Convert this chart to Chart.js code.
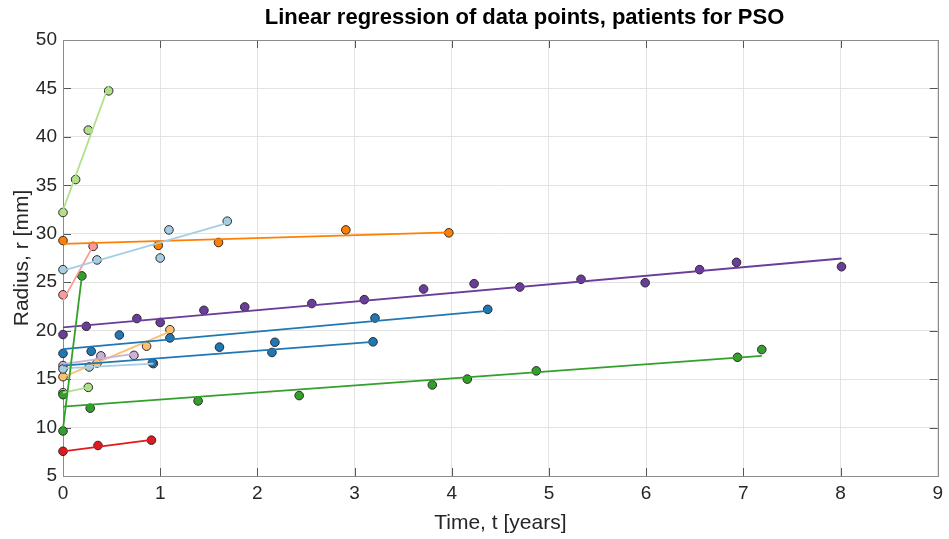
<!DOCTYPE html>
<html>
<head>
<meta charset="utf-8">
<script src="https://cdn.jsdelivr.net/npm/chart.js@4.4.1/dist/chart.umd.min.js"></script>
<style>
  html, body { margin: 0; padding: 0; background: #ffffff; }
  #c { display: block; }
</style>
</head>
<body>
<canvas id="c" width="949" height="539"></canvas>
<script>
// ---------------- DATA ----------------
const chartTitle = 'Linear regression of data points, patients for PSO';
const xAxisTitle = 'Time, t [years]';
const yAxisTitle = 'Radius, r [mm]';
const xTickValues = [0, 1, 2, 3, 4, 5, 6, 7, 8, 9];
const yTickValues = [5, 10, 15, 20, 25, 30, 35, 40, 45, 50];

// each patient: time points t [years], radii r [mm], fitted line r at first / last time
const tLightBlueA = [0, 0.35, 1.00, 1.09, 1.69];
const rLightBlueA = [26.3, 27.3, 27.5, 30.4, 31.3];
const fitLightBlueA = [26.2, 31.1];

const tOrange = [0, 0.98, 1.60, 2.91, 3.97];
const rOrange = [29.3, 28.8, 29.1, 30.4, 30.1];
const fitOrange = [28.95, 30.15];

const tPink = [0, 0.31];
const rPink = [23.7, 28.7];
const fitPink = [23.1, 28.75];

const tGreenSteep = [0, 0.194];
const rGreenSteep = [9.65, 25.65];
const fitGreenSteep = [9.9, 25.6];

const tGreenLong = [0, 0.28, 1.39, 2.43, 3.80, 4.16, 4.87, 6.94, 7.19];
const rGreenLong = [13.4, 12.0, 12.75, 13.3, 14.4, 15.0, 15.85, 17.25, 18.05];
const fitGreenLong = [12.15, 17.4];

const tRed = [0, 0.36, 0.91];
const rRed = [7.55, 8.15, 8.7];
const fitRed = [7.55, 8.72];

const tPurple = [0, 0.24, 0.76, 1.00, 1.45, 1.87, 2.56, 3.10, 3.71, 4.23, 4.70, 5.33, 5.99, 6.55, 6.93, 8.01];
const rPurple = [19.6, 20.45, 21.25, 20.85, 22.1, 22.45, 22.8, 23.2, 24.3, 24.85, 24.5, 25.3, 24.95, 26.3, 27.05, 26.6];
const fitPurple = [20.35, 27.45];

const tBlueUpper = [0, 0.58, 1.10, 3.21, 4.37];
const rBlueUpper = [17.65, 19.55, 19.25, 21.3, 22.2];
const fitBlueUpper = [18.1, 22.05];

const tBlueLower = [0.29, 0.92, 1.61, 2.15, 2.18, 3.19];
const rBlueLower = [17.87, 16.67, 18.3, 17.75, 18.8, 18.85];
const fitBlueLower = [16.4, 18.85];
const fitBlueLowerT = [0, 3.19];

const tLightBlueB = [0, 0.27, 0.93];
const rLightBlueB = [16.05, 16.25, 16.6];
const fitLightBlueB = [16.1, 16.6];

const tLightPurple = [0, 0.39, 0.73];
const rLightPurple = [16.4, 17.4, 17.45];
const fitLightPurple = [16.55, 17.6];

const tLightOrange = [0, 0.35, 0.86, 1.10];
const rLightOrange = [15.25, 16.65, 18.4, 20.1];
const fitLightOrange = [15.2, 19.9];

const tLightGreenLow = [0, 0.26];
const rLightGreenLow = [13.6, 14.15];
const fitLightGreenLow = [13.6, 14.15];

const tLightGreenHigh = [0, 0.13, 0.26, 0.47];
const rLightGreenHigh = [32.2, 35.6, 40.7, 44.75];
const fitLightGreenHigh = [32.43, 45.28];

// ---------------- STYLE ----------------
const C = {
  lightBlue: '#a6cee3', blue: '#1f78b4', lightGreen: '#b2df8a', green: '#33a02c',
  pink: '#fb9a99', red: '#e31a1c', lightOrange: '#fdbf6f', orange: '#ff7f00',
  lightPurple: '#cab2d6', purple: '#6a3d9a'
};

const patients = [
  { t: tLightBlueA, r: rLightBlueA, fit: fitLightBlueA, color: C.lightBlue },
  { t: tOrange, r: rOrange, fit: fitOrange, color: C.orange },
  { t: tPink, r: rPink, fit: fitPink, color: C.pink },
  { t: tGreenSteep, r: rGreenSteep, fit: fitGreenSteep, color: C.green },
  { t: tGreenLong, r: rGreenLong, fit: fitGreenLong, color: C.green },
  { t: tRed, r: rRed, fit: fitRed, color: C.red },
  { t: tPurple, r: rPurple, fit: fitPurple, color: C.purple },
  { t: tBlueUpper, r: rBlueUpper, fit: fitBlueUpper, color: C.blue },
  { t: tBlueLower, r: rBlueLower, fit: fitBlueLower, fitT: fitBlueLowerT, color: C.blue },
  { t: tLightBlueB, r: rLightBlueB, fit: fitLightBlueB, color: C.lightBlue },
  { t: tLightPurple, r: rLightPurple, fit: fitLightPurple, color: C.lightPurple },
  { t: tLightOrange, r: rLightOrange, fit: fitLightOrange, color: C.lightOrange },
  { t: tLightGreenLow, r: rLightGreenLow, fit: fitLightGreenLow, color: C.lightGreen },
  { t: tLightGreenHigh, r: rLightGreenHigh, fit: fitLightGreenHigh, color: C.lightGreen }
];

const lineSets = patients.map(p => {
  const t0 = p.fitT ? p.fitT[0] : p.t[0];
  const t1 = p.fitT ? p.fitT[1] : p.t[p.t.length - 1];
  return {
    type: 'scatter', showLine: true, clip: false,
    data: [{ x: t0, y: p.fit[0] }, { x: t1, y: p.fit[1] }],
    borderColor: p.color, borderWidth: 1.8, pointRadius: 0, fill: false
  };
});
const pointSets = patients.map(p => ({
  type: 'scatter', showLine: false, clip: false,
  data: p.t.map((t, i) => ({ x: t, y: p.r[i] })),
  backgroundColor: p.color, borderColor: '#2a2a2a', borderWidth: 1, pointRadius: 4.3
}));

const FONT = "'Liberation Sans', Arial, Helvetica, sans-serif";

const boxPlugin = {
  id: 'boxTicks',
  afterLayout(chart) {
    // shift the title centre to where it sits in the reference
    const tb = chart.titleBlock;
    if (tb) { tb.left += 53; tb.right += 53; }
  },
  beforeDatasetsDraw(chart) {
    const { ctx, chartArea: { left, right, top, bottom }, scales: { x, y } } = chart;
    ctx.save();
    ctx.lineWidth = 1;
    ctx.strokeStyle = '#555555';
    const L = 8;
    ctx.beginPath();
    xTickValues.forEach(v => {
      const px = Math.round(x.getPixelForValue(v)) + 0.5;
      ctx.moveTo(px, bottom); ctx.lineTo(px, bottom - L);
      ctx.moveTo(px, top); ctx.lineTo(px, top + L);
    });
    yTickValues.forEach(v => {
      const py = Math.round(y.getPixelForValue(v)) + 0.5;
      ctx.moveTo(left, py); ctx.lineTo(left + L, py);
      ctx.moveTo(right, py); ctx.lineTo(right - L, py);
    });
    ctx.stroke();
    ctx.strokeStyle = '#8c8c8c';
    ctx.strokeRect(Math.round(left) + 0.5, Math.round(top) + 0.5,
                   Math.round(right - left), Math.round(bottom - top));
    ctx.restore();
  }
};

new Chart(document.getElementById('c'), {
  type: 'scatter',
  data: { datasets: [...lineSets, ...pointSets] },
  options: {
    responsive: false,
    animation: false,
    events: [],
    layout: { padding: { left: 0, right: 6, top: 0, bottom: 0 } },
    plugins: {
      legend: { display: false },
      tooltip: { enabled: false },
      title: {
        display: true, text: chartTitle, color: '#000000',
        font: { family: FONT, size: 22, weight: 'bold', lineHeight: 1.2 },
        padding: { top: 5, bottom: 8.6 }
      }
    },
    scales: {
      x: {
        type: 'linear', min: 0, max: 9,
        afterBuildTicks: s => { s.ticks = xTickValues.map(v => ({ value: v })); },
        afterFit: s => { s.height = 63; },
        grid: { color: '#e3e3e3', lineWidth: 1, drawTicks: false },
        border: { display: false },
        ticks: { color: '#262626', padding: 6, font: { family: FONT, size: 19 }, maxRotation: 0 },
        title: { display: true, text: xAxisTitle, color: '#262626',
                 font: { family: FONT, size: 21 }, padding: { top: 0, bottom: 3 } }
      },
      y: {
        type: 'linear', min: 5, max: 50,
        afterBuildTicks: s => { s.ticks = yTickValues.map(v => ({ value: v })); },
        afterFit: s => { s.width = 63; },
        grid: { color: '#e3e3e3', lineWidth: 1, drawTicks: false },
        border: { display: false },
        ticks: { color: '#262626', padding: 6, font: { family: FONT, size: 19 } },
        title: { display: true, text: yAxisTitle, color: '#262626',
                 font: { family: FONT, size: 21 }, padding: { top: 10, bottom: 0 } }
      }
    }
  },
  plugins: [boxPlugin]
});
</script>
</body>
</html>
